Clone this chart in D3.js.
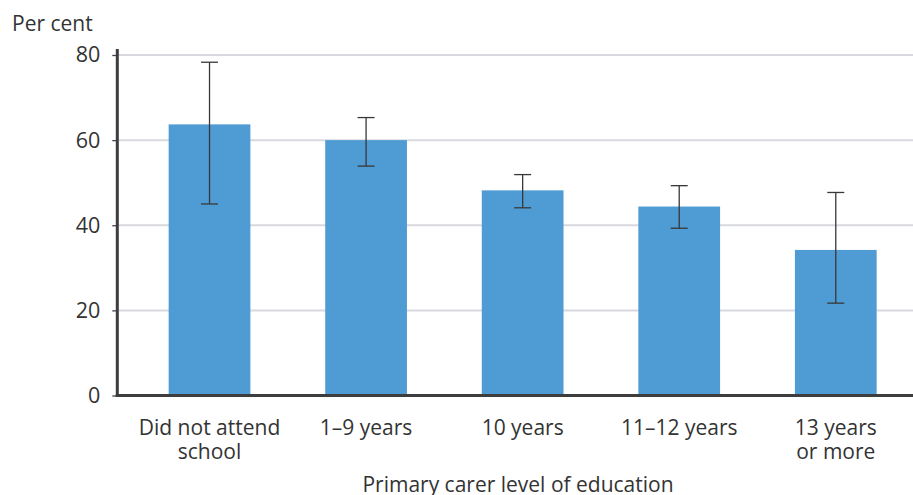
<!DOCTYPE html>
<html><head><meta charset="utf-8">
<script src="https://cdn.jsdelivr.net/npm/d3@7"></script>
<style>
body{margin:0;background:#fff;}
text{font-family:"Open Sans","Noto Sans",sans-serif;fill:#333;}
</style></head>
<body>
<svg id="chart" width="913" height="495"></svg>
<script>
const categories = [["Did not attend","school"],["1\u20139 years"],["10 years"],["11\u201312 years"],["13 years","or more"]];
const values = [63.7, 60.0, 48.2, 44.4, 34.2];
const errLow = [45.0, 53.9, 44.1, 39.3, 21.7];
const errHigh = [78.3, 65.3, 51.9, 49.3, 47.7];
const yTicks = [0, 20, 40, 60, 80];

const svg = d3.select("#chart");
const mLeft = 117.3, mRight = 928, mTop = 55, mBottom = 395.5;
const x = d3.scaleBand().domain(d3.range(values.length)).range([mLeft, mRight]).paddingInner(0.478).paddingOuter(0.328);
const y = d3.scaleLinear().domain([0, 80]).range([mBottom, mTop]);

// gridlines
svg.append("g").selectAll("line").data(yTicks.filter(d=>d>0)).join("line")
  .attr("x1", mLeft).attr("x2", 913).attr("y1", d=>y(d)).attr("y2", d=>y(d))
  .attr("stroke", "#d8d9df").attr("stroke-width", 2);

// bars
svg.append("g").selectAll("rect").data(values).join("rect")
  .attr("x", (d,i)=>x(i)).attr("width", x.bandwidth())
  .attr("y", d=>y(d)).attr("height", d=>mBottom - y(d))
  .attr("fill", "#4f9cd5");

// error bars
const eg = svg.append("g").attr("stroke", "#383838").attr("stroke-width", 1.3);
values.forEach((v,i)=>{
  const cx = x(i) + x.bandwidth()/2;
  eg.append("line").attr("x1", cx).attr("x2", cx).attr("y1", y(errLow[i])).attr("y2", y(errHigh[i]));
  eg.append("line").attr("x1", cx-8.5).attr("x2", cx+8.5).attr("y1", y(errLow[i])).attr("y2", y(errLow[i]));
  eg.append("line").attr("x1", cx-8.5).attr("x2", cx+8.5).attr("y1", y(errHigh[i])).attr("y2", y(errHigh[i]));
});

// y axis
const yAxis = d3.axisLeft(y).tickValues(yTicks).tickSize(5).tickPadding(12);
const ya = svg.append("g").attr("transform", `translate(${mLeft},0)`).call(yAxis);
ya.select(".domain").remove();
ya.selectAll(".tick line").attr("stroke", "#444").attr("stroke-width", 1.3);
ya.selectAll(".tick text").style("font-size", "21.5px").attr("fill", "#333").style("font-family", '"Open Sans","Noto Sans",sans-serif');
svg.append("line").attr("x1", mLeft).attr("x2", mLeft).attr("y1", mTop - 6).attr("y2", mBottom + 1.5)
  .attr("stroke", "#3d3d3d").attr("stroke-width", 3);
// x axis baseline
svg.append("line").attr("x1", mLeft - 1.5).attr("x2", 913).attr("y1", mBottom).attr("y2", mBottom)
  .attr("stroke", "#3d3d3d").attr("stroke-width", 3);

// x labels
const xl = svg.append("g");
categories.forEach((lines,i)=>{
  lines.forEach((ln,j)=>xl.append("text").attr("text-anchor", "middle")
    .attr("x", x(i) + x.bandwidth()/2).attr("y", 434.5 + j*24)
    .style("font-size", "21px").text(ln));
});

svg.append("text").attr("x", 518).attr("y", 491.5).attr("text-anchor", "middle").style("font-size", "21px")
  .text("Primary carer level of education");
svg.append("text").attr("x", 12).attr("y", 31).style("font-size", "21px").text("Per cent");
</script>
</body></html>
